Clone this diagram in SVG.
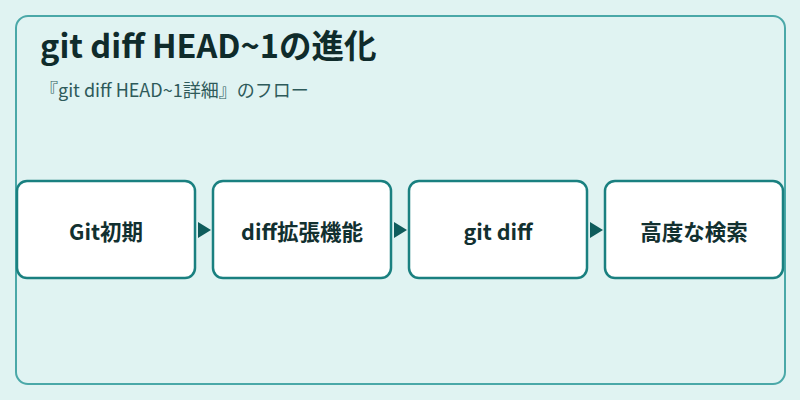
<svg xmlns="http://www.w3.org/2000/svg" width="800" height="400" viewBox="0 0 800 400">
<style>
.node rect{fill:#ffffff;stroke:#1a8080;stroke-width:2.5}
.node text{font-family:"Noto Sans CJK JP","Noto Sans",sans-serif;font-size:21.5px;font-weight:700;fill:#123030;text-anchor:middle;dominant-baseline:central}
.title{font-family:"Noto Sans CJK JP","Noto Sans",sans-serif;font-size:32.5px;font-weight:700;fill:#0f2b2b}
.sub{font-family:"Noto Sans CJK JP","Noto Sans",sans-serif;font-size:18px;fill:#2e5a5a}
.conn path{fill:#0f5c5c}
</style>
<rect x="0" y="0" width="800" height="400" fill="#e0f3f2"/>
<rect x="16" y="16" width="769" height="368" rx="12" fill="#e0f3f2" stroke="#4aa8a8" stroke-width="2"/>
<text class="title" x="40" y="58">git diff HEAD~1の進化</text>
<text class="sub" x="40" y="97">『git diff HEAD~1詳細』のフロー</text>
<g id="connectors" class="conn">
<path d="M198,222 L211,230 L198,238 Z"/>
<path d="M394,222 L407,230 L394,238 Z"/>
<path d="M590,222 L603,230 L590,238 Z"/>
</g>
<g id="node1" class="node"><rect x="17" y="181" width="178" height="97" rx="10"/><text x="106" y="230">Git初期</text></g>
<g id="node2" class="node"><rect x="213" y="181" width="178" height="97" rx="10"/><text x="302" y="230">diff拡張機能</text></g>
<g id="node3" class="node"><rect x="409" y="181" width="178" height="97" rx="10"/><text x="498" y="230">git diff</text></g>
<g id="node4" class="node"><rect x="605" y="181" width="178" height="97" rx="10"/><text x="694" y="230">高度な検索</text></g>
</svg>
